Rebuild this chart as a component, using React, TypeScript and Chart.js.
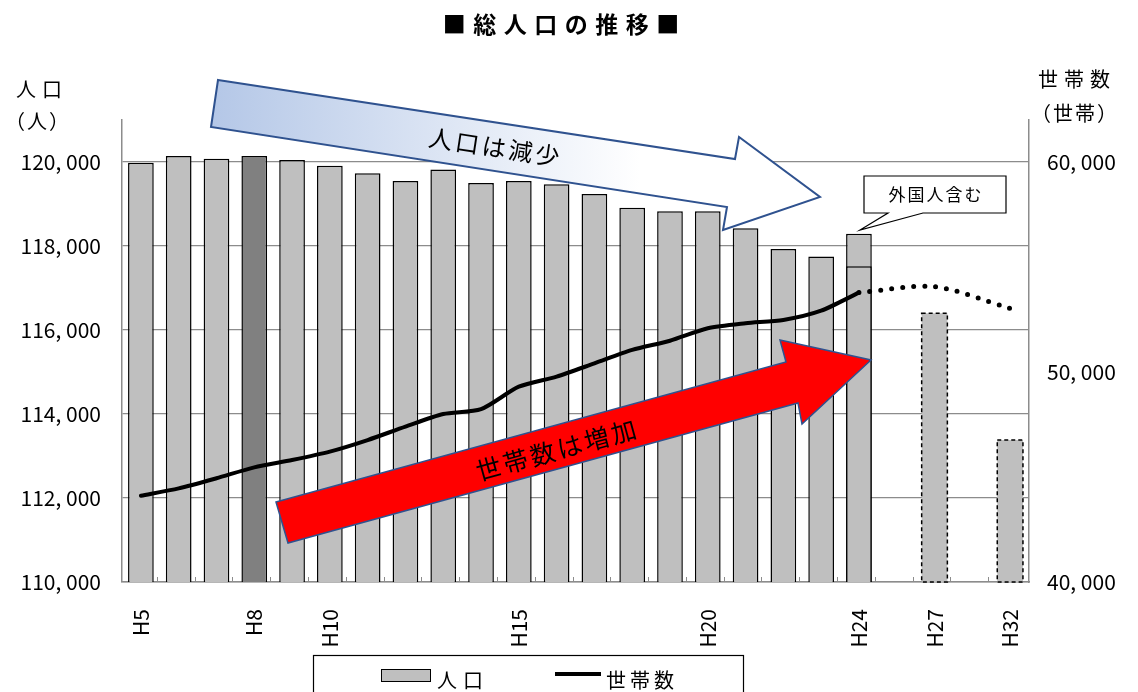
import { useEffect, useRef } from 'react';
import { Chart, registerables } from 'chart.js';

Chart.register(...registerables);

// Fiscal-year categories (blank slots keep the spacing between projection years)
const categories = [
  'H5', 'H6', 'H7', 'H8', 'H9', 'H10', 'H11', 'H12', 'H13', 'H14',
  'H15', 'H16', 'H17', 'H18', 'H19', 'H20', 'H21', 'H22', 'H23', 'H24',
  '', 'H27', '', 'H32',
];
const shownTickLabels = ['H5', 'H8', 'H10', 'H15', 'H20', 'H24', 'H27', 'H32'];
const populationTicks = [110000, 112000, 114000, 116000, 118000, 120000];
const householdTicks = [40000, 50000, 60000];

// 総人口（人）: H5–H24 actual, then projections for H27 and H32
const population = [
  119980, 120140, 120080, 120140, 120050, 119910, 119730, 119550, 119820, 119500,
  119550, 119470, 119240, 118910, 118830, 118830, 118420, 117930, 117750, 118290,
  null, 116400, null, 113380,
];
// H24 population excluding foreign residents (inner division of the H24 bar)
const populationJapaneseOnly = [
  null, null, null, null, null, null, null, null, null, null,
  null, null, null, null, null, null, null, null, null, 117520,
  null, null, null, null,
];
// 世帯数（世帯）: actual
const households = [
  44110, 44460, 44940, 45460, 45810, 46210, 46760, 47400, 48000, 48230,
  49300, 49780, 50410, 51050, 51490, 52080, 52320, 52480, 52920, 53780,
  null, null, null, null,
];
// 世帯数: projection continuing from H24
const householdsProjected = [
  null, null, null, null, null, null, null, null, null, null,
  null, null, null, null, null, null, null, null, null, 53780,
  null, 54060, null, 53030,
];
const highlightIndex = 3; // H8
const projectionIndices = [21, 23];

const FONT = '"Noto Sans CJK JP", "Noto Sans", sans-serif';
const BAR_GRAY = '#BFBFBF';
const BAR_DARK = '#808080';
const GRID = '#8C8C8C';

function spacedText(
  ctx: CanvasRenderingContext2D,
  text: string,
  x: number,
  y: number,
  spacing: number,
  align: 'center' | 'left' = 'center',
) {
  const chars = Array.from(text);
  const widths = chars.map((c) => ctx.measureText(c).width);
  const total = widths.reduce((a, b) => a + b, 0) + spacing * (chars.length - 1);
  let cx = align === 'center' ? x - total / 2 : x;
  ctx.textAlign = 'left';
  chars.forEach((c, i) => {
    ctx.fillText(c, cx, y);
    cx += widths[i] + spacing;
  });
}

function polygon(ctx: CanvasRenderingContext2D, pts: number[][]) {
  ctx.beginPath();
  pts.forEach(([px, py], i) => (i === 0 ? ctx.moveTo(px, py) : ctx.lineTo(px, py)));
  ctx.closePath();
}

const formatThousands = (v: any) => Number(v).toLocaleString('en-US').replace(',', ', ');

const decorations = {
  id: 'decorations',
  afterDatasetsDraw(chart: any) {
    const ctx: CanvasRenderingContext2D = chart.ctx;
    const area = chart.chartArea;
    // dashed outline for projected population bars
    const meta = chart.getDatasetMeta(0);
    ctx.save();
    ctx.strokeStyle = '#000';
    ctx.lineWidth = 1.5;
    ctx.setLineDash([4, 3]);
    projectionIndices.forEach((i) => {
      const el = meta.data[i];
      if (!el) return;
      const { x, y, base, width } = el.getProps(['x', 'y', 'base', 'width'], true);
      const bottom = Math.min(base, area.bottom);
      ctx.strokeRect(x - width / 2, y, width, bottom - y);
    });
    ctx.restore();

    // small inner tick marks at category boundaries on the x axis
    const xs = chart.scales.x;
    const step = (area.right - area.left) / categories.length;
    ctx.save();
    ctx.strokeStyle = GRID;
    ctx.lineWidth = 1;
    for (let k = 1; k < categories.length; k++) {
      const px = Math.round(xs.left + k * step - 3) + 0.5;
      ctx.beginPath();
      ctx.moveTo(px, area.bottom);
      ctx.lineTo(px, area.bottom - 5);
      ctx.stroke();
    }
    ctx.restore();
  },
  afterDraw(chart: any) {
    const ctx: CanvasRenderingContext2D = chart.ctx;
    ctx.save();
    ctx.textBaseline = 'middle';
    ctx.fillStyle = '#000';

    // title
    ctx.font = `bold 23px ${FONT}`;
    spacedText(ctx, '■総人口の推移■', 561, 24, 7.5);

    // axis titles
    ctx.font = `20px ${FONT}`;
    spacedText(ctx, '人口', 39, 89, 6);
    spacedText(ctx, '（人）', 37, 121, 2);
    spacedText(ctx, '世帯数', 1074, 79, 6);
    spacedText(ctx, '（世帯）', 1074, 113, 2);

    // decreasing-population arrow
    const blue = [[218, 80], [735, 159], [739, 137], [820, 197], [723, 230], [727, 207], [211, 127]];
    const grad = ctx.createLinearGradient(210, 0, 640, 0);
    grad.addColorStop(0, '#B4C7E7');
    grad.addColorStop(1, '#FFFFFF');
    polygon(ctx, blue);
    ctx.fillStyle = grad;
    ctx.fill();
    ctx.strokeStyle = '#2F528F';
    ctx.lineWidth = 2;
    ctx.lineJoin = 'miter';
    ctx.stroke();
    ctx.save();
    ctx.translate(494, 147);
    ctx.rotate(Math.atan2(79, 517));
    ctx.fillStyle = '#000';
    ctx.font = `24px ${FONT}`;
    spacedText(ctx, '人口は減少', 0, 0, 3);
    ctx.restore();

    // increasing-households arrow
    const red = [[276, 502], [786, 362], [780, 340], [871, 360], [802, 424], [798, 403], [288, 543]];
    polygon(ctx, red);
    ctx.fillStyle = '#FF0000';
    ctx.fill();
    ctx.strokeStyle = '#2F528F';
    ctx.lineWidth = 1.5;
    ctx.stroke();
    ctx.save();
    ctx.translate(556, 450);
    ctx.rotate(Math.atan2(-140, 510));
    ctx.fillStyle = '#000';
    ctx.font = `25px ${FONT}`;
    spacedText(ctx, '世帯数は増加', 0, 0, 3);
    ctx.restore();

    // callout for the H24 bar
    polygon(ctx, [[864, 176], [1006, 176], [1006, 213], [923, 213], [860, 230], [888, 213], [864, 213]]);
    ctx.fillStyle = '#FFFFFF';
    ctx.fill();
    ctx.strokeStyle = '#000';
    ctx.lineWidth = 1.2;
    ctx.stroke();
    ctx.fillStyle = '#000';
    ctx.font = `17px ${FONT}`;
    spacedText(ctx, '外国人含む', 935, 195, 2);

    // legend
    ctx.strokeStyle = '#000';
    ctx.lineWidth = 1.2;
    ctx.strokeRect(313.5, 655.5, 430, 50);
    const ds = chart.data.datasets;
    ctx.fillStyle = BAR_GRAY;
    ctx.fillRect(381, 669, 50, 13);
    ctx.lineWidth = 1;
    ctx.strokeRect(381.5, 669.5, 49, 12);
    ctx.fillStyle = '#000';
    ctx.font = `20px ${FONT}`;
    spacedText(ctx, ds[0].label, 437, 680, 6, 'left');
    ctx.strokeStyle = '#000';
    ctx.lineWidth = 4;
    ctx.beginPath();
    ctx.moveTo(555, 674);
    ctx.lineTo(601, 674);
    ctx.stroke();
    spacedText(ctx, ds[2].label, 606, 680, 4, 'left');

    ctx.restore();
  },
};

export default function App() {
  const canvasRef = useRef<HTMLCanvasElement | null>(null);

  useEffect(() => {
    document.body.style.margin = '0';
    const canvas = canvasRef.current;
    if (!canvas) return;
    const barColors = population.map((_, i) => (i === highlightIndex ? BAR_DARK : BAR_GRAY));
    const chart = new Chart(canvas, {
      type: 'bar',
      data: {
        labels: categories,
        datasets: [
          {
            type: 'bar',
            label: '人口',
            data: population as any,
            backgroundColor: barColors,
            borderColor: '#000',
            borderWidth: (c: any) => (projectionIndices.includes(c.dataIndex) ? 0 : 1.5),
            barPercentage: 0.68,
            categoryPercentage: 1,
            grouped: false,
            order: 4,
            yAxisID: 'y',
          } as any,
          {
            type: 'bar',
            label: '人口（日本人）',
            data: populationJapaneseOnly as any,
            backgroundColor: BAR_GRAY,
            borderColor: '#000',
            borderWidth: 1.5,
            barPercentage: 0.68,
            categoryPercentage: 1,
            grouped: false,
            order: 3,
            yAxisID: 'y',
          } as any,
          {
            type: 'line',
            label: '世帯数',
            data: households as any,
            borderColor: '#000',
            borderWidth: 4,
            pointRadius: 0,
            tension: 0.25,
            borderCapStyle: 'round',
            order: 2,
            yAxisID: 'y1',
          } as any,
          {
            type: 'line',
            label: '世帯数（推計）',
            data: householdsProjected as any,
            borderColor: '#000',
            borderWidth: 5,
            borderDash: [0, 11],
            borderCapStyle: 'round',
            pointRadius: 0,
            spanGaps: true,
            tension: 0.3,
            order: 1,
            yAxisID: 'y1',
          } as any,
        ],
      },
      options: {
        responsive: false,
        animation: false,
        devicePixelRatio: 1,
        layout: { padding: { top: 120, left: 0, right: 0, bottom: 0 } },
        plugins: {
          legend: { display: false },
          title: { display: false },
          tooltip: { enabled: false },
        },
        scales: {
          x: {
            grid: { display: false, drawTicks: false },
            border: { display: true, color: GRID, width: 1.5 },
            ticks: {
              autoSkip: false,
              minRotation: 90,
              maxRotation: 90,
              padding: 27,
              color: '#000',
              font: { family: FONT, size: 21 },
              callback: (_v: any, i: number) =>
                shownTickLabels.includes(categories[i]) ? categories[i] : '',
            },
            afterFit: (s: any) => {
              s.height = 110;
            },
          },
          y: {
            position: 'left',
            min: 110000,
            max: 121000,
            ticks: {
              padding: 21,
              color: '#000',
              font: { family: FONT, size: 21 },
              callback: formatThousands,
            },
            afterBuildTicks: (axis: any) => {
              axis.ticks = populationTicks.map((value) => ({ value }));
            },
            grid: { color: GRID, lineWidth: 1.25, drawTicks: false },
            border: { display: true, color: GRID, width: 1.5 },
            afterFit: (s: any) => {
              s.width = 122;
            },
          },
          y1: {
            position: 'right',
            min: 40000,
            max: 62000,
            ticks: {
              padding: 18,
              color: '#000',
              font: { family: FONT, size: 21 },
              callback: formatThousands,
            },
            afterBuildTicks: (axis: any) => {
              axis.ticks = householdTicks.map((value) => ({ value }));
            },
            grid: { display: false, drawTicks: false },
            border: { display: true, color: GRID, width: 1.5 },
            afterFit: (s: any) => {
              s.width = 109;
            },
          },
        },
      } as any,
      plugins: [decorations],
    });
    return () => chart.destroy();
  }, []);

  return (
    <div style={{ width: 1138, height: 692, background: '#fff' }}>
      <canvas ref={canvasRef} width={1138} height={692} style={{ display: 'block' }} />
    </div>
  );
}
